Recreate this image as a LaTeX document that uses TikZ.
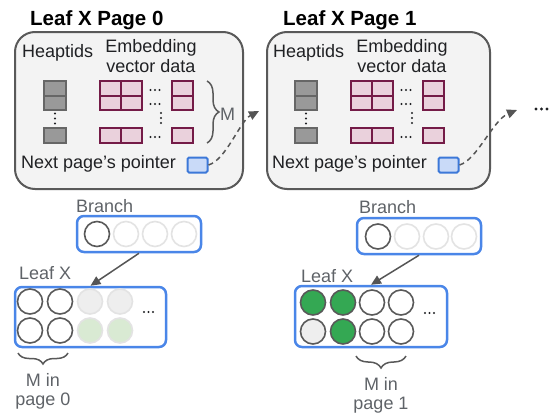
\documentclass[tikz,border=0pt]{standalone}
\usepackage{fontspec}
\setmainfont{Liberation Sans}
\usetikzlibrary{arrows.meta,decorations.pathreplacing}
\definecolor{pagefill}{HTML}{F3F3F3}
\definecolor{pageline}{HTML}{595959}
\definecolor{hfill}{HTML}{999999}
\definecolor{hline}{HTML}{666666}
\definecolor{efill}{HTML}{EAD1DC}
\definecolor{eline}{HTML}{741B47}
\definecolor{pfill}{HTML}{C9DAF8}
\definecolor{pline}{HTML}{3C78D8}
\definecolor{bline}{HTML}{4A86E8}
\definecolor{gfill}{HTML}{34A853}
\definecolor{lgfill}{HTML}{EEEEEE}
\definecolor{lgline}{HTML}{E3E3E3}
\definecolor{ltgreen}{HTML}{D9EAD3}
\definecolor{txt}{HTML}{202124}
\definecolor{gtxt}{HTML}{5F6368}
\definecolor{arr}{HTML}{555555}
\tikzset{
 pagebox/.style={draw=pageline,fill=pagefill,line width=2pt,rounded corners=20pt},
 hcell/.style={draw=hline,fill=hfill,line width=2pt},
 ecell/.style={draw=eline,fill=efill,line width=2pt},
 ptrbox/.style={draw=pline,fill=pfill,line width=2pt,rounded corners=1.5pt,minimum width=20pt,minimum height=15pt,inner sep=0pt},
 treebox/.style={draw=bline,line width=2.5pt,rounded corners=7pt,fill=white,inner sep=0pt},
 intext/.style={text=txt,font=\fontsize{18}{20}\selectfont,inner sep=0pt},
 graytext/.style={text=gtxt,font=\fontsize{18}{19}\selectfont,inner sep=0pt},
 titletext/.style={text=black,font=\fontsize{20.5}{24}\selectfont\bfseries,inner sep=0pt},
 slot/.style={circle,minimum size=25pt,inner sep=0pt,line width=1.6pt,draw=pageline,fill=white},
 faint/.style={slot,draw=lgline},
 grayslot/.style={slot,fill=lgfill},
 faintgray/.style={faint,fill=lgfill},
 faintgreen/.style={faint,fill=ltgreen},
 greenslot/.style={slot,fill=gfill},
 dasharr/.style={draw=arr,line width=1.5pt,dash pattern=on 5pt off 4pt,-{Triangle[length=10pt,width=9pt]}},
 solarr/.style={draw=arr,line width=1.5pt,-{Triangle[length=10pt,width=9pt]}},
 bracestyle/.style={draw=pageline,line width=1.5pt,decorate,decoration={brace,amplitude=#1}},
}
\newcommand\hdotrow[3]{\fill[txt] (#1,#2) circle (#3) (#1+4.5,#2) circle (#3) (#1+9,#2) circle (#3);}
\newcommand\vdotcol[3]{\fill[txt] (#1,#2) circle (#3) (#1,#2+5) circle (#3) (#1,#2+10) circle (#3);}
\newcommand\pageinner[1]{%
 \node[intext,anchor=base west] (heap#1) at (22,57) {Heaptids};
 \node[intext,align=center,anchor=base] (emb#1) at (151,72) {Embedding\\vector data};
 \draw[hcell] (44,81) rectangle (66,96);
 \draw[hcell] (44,96) rectangle (66,110);
 \draw[hcell] (44,128) rectangle (66,143);
 \vdotcol{55}{113.5}{1.2pt}
 \draw[ecell] (100,81) rectangle (121,96);
 \draw[ecell] (121,81) rectangle (142,96);
 \draw[ecell] (100,96) rectangle (121,110);
 \draw[ecell] (121,96) rectangle (142,110);
 \draw[ecell] (172,81) rectangle (193,96);
 \draw[ecell] (172,96) rectangle (193,110);
 \draw[ecell] (100,128) rectangle (121,143);
 \draw[ecell] (121,128) rectangle (142,143);
 \draw[ecell] (172,128) rectangle (193,143);
 \hdotrow{150.5}{90}{1.2pt}
 \hdotrow{150.5}{104}{1.2pt}
 \vdotcol{161}{113}{1.2pt}
 \hdotrow{150.5}{137}{1.2pt}
 \node[intext,anchor=base west] (next#1) at (21,168) {Next page’s pointer};
 \node[ptrbox] (ptr#1) at (197.5,165) {};
}
\begin{document}
\begin{tikzpicture}[x=1pt,y=-1pt]
\useasboundingbox (0,0) rectangle (552,415);
% pages
\node[titletext,anchor=base west] (title0) at (30,25) {Leaf X Page 0};
\node[titletext,anchor=base west] (title1) at (283,25) {Leaf X Page 1};
\draw[pagebox] (15,32) rectangle (243,189);
\draw[pagebox] (267,32) rectangle (490,189);
\pageinner{0}
\begin{scope}[xshift=251pt]
\pageinner{1}
\end{scope}
\draw[bracestyle=12pt] (207,81) -- (207,143);
\node[graytext,anchor=base west] (mlab) at (220,120) {M};
\coordinate (nx0) at (259,111);
\coordinate (nx1) at (517,110);
\draw[dasharr] (ptr0.east) .. controls (226,160) and (240,121) .. (nx0);
\draw[dasharr] (ptr1.east) .. controls (477,160) and (493,120) .. (nx1);
\fill[txt] (536,109) circle (1.6pt) (541.5,109) circle (1.6pt) (547,109) circle (1.6pt);
% left tree
\node[graytext,anchor=base west] (brlabL) at (76,212) {Branch};
\node[treebox,minimum width=124pt,minimum height=36pt] (brL) at (139,234) {};
\node[slot] (bL1) at (97,234) {};
\node[faint] (bL2) at (126,234) {};
\node[faint] (bL3) at (155,234) {};
\node[faint] (bL4) at (184,234) {};
\node[graytext,anchor=base west] (lflabL) at (19,279) {Leaf X};
\node[treebox,minimum width=151pt,minimum height=60pt] (lfL) at (90.5,317) {};
\node[slot] (lL11) at (30,301.5) {};
\node[slot] (lL12) at (60,301.5) {};
\node[faintgray] (lL13) at (90,301.5) {};
\node[faintgray] (lL14) at (120,301.5) {};
\node[slot] (lL21) at (30,330.5) {};
\node[slot] (lL22) at (60,330.5) {};
\node[faintgreen] (lL23) at (90,330.5) {};
\node[faintgreen] (lL24) at (120,330.5) {};
\hdotrow{144}{312}{1.2pt}
\draw[solarr] (brL.south) -- (lfL.north);
\draw[bracestyle=11pt] (68,353) -- (18,353);
\node[graytext,align=center,anchor=base] (mL) at (43,405) {M in\\page 0};
% right tree
\node[graytext,anchor=base west] (brlabR) at (359,213) {Branch};
\node[treebox,minimum width=124pt,minimum height=36pt] (brR) at (419,236) {};
\node[slot] (bR1) at (378,236.5) {};
\node[faint] (bR2) at (407,236.5) {};
\node[faint] (bR3) at (436,236.5) {};
\node[faint] (bR4) at (464,236.5) {};
\node[graytext,anchor=base west] (lflabR) at (301,282) {Leaf X};
\node[treebox,minimum width=152pt,minimum height=61pt] (lfR) at (371,316.5) {};
\node[greenslot] (lR11) at (313,302.5) {};
\node[greenslot] (lR12) at (343,302.5) {};
\node[slot] (lR13) at (372,302.5) {};
\node[slot] (lR14) at (401,302.5) {};
\node[grayslot] (lR21) at (313,331.5) {};
\node[greenslot] (lR22) at (343,331.5) {};
\node[slot] (lR23) at (372,331.5) {};
\node[slot] (lR24) at (401,331.5) {};
\hdotrow{425}{313}{1.2pt}
\draw[solarr] (brR.south) -- (lfR.north);
\draw[bracestyle=12pt] (406,356) -- (356,356);
\node[graytext,align=center,anchor=base] (mR) at (381,409) {M in\\page 1};
\end{tikzpicture}
\end{document}
